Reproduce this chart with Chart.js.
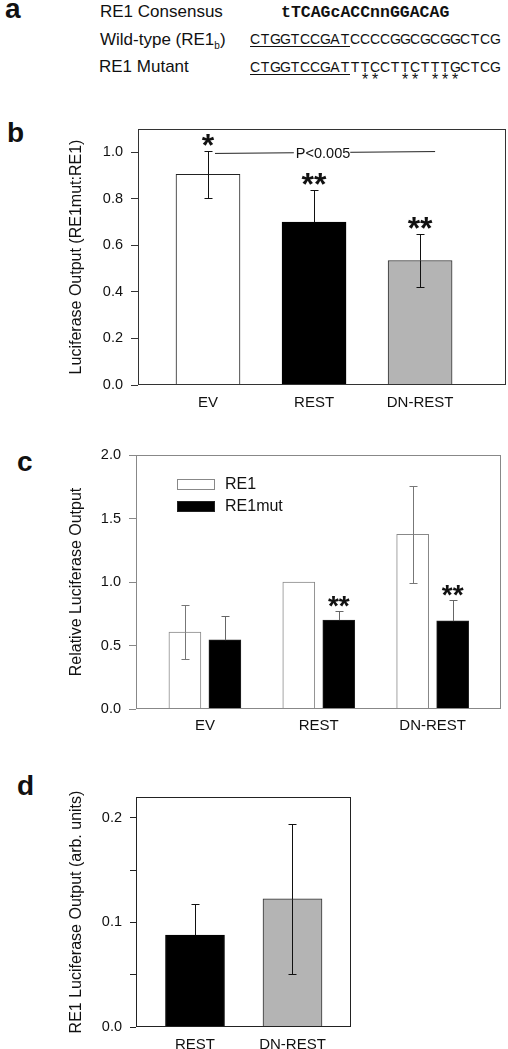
<!DOCTYPE html>
<html>
<head>
<meta charset="utf-8">
<script src="https://cdn.jsdelivr.net/npm/chart.js@4.4.1/dist/chart.umd.min.js"></script>
<style>
  html, body { margin: 0; padding: 0; background: #fff; }
  #page { position: relative; width: 508px; height: 1049px; overflow: hidden; font-family: "Liberation Sans", Arial, sans-serif; color: #111; }
  .t { position: absolute; line-height: 1; white-space: pre; }
  .lbl { font-weight: bold; font-size: 28px; }
  .row { font-size: 17px; }
  .seq { font-size: 14px; }
  .mono { font-family: "Liberation Mono", "Courier New", monospace; font-weight: bold; font-size: 16.5px; }
  .site { display: inline-block; border-bottom: 1.5px solid #111; }
  .cell { display: inline-block; width: 10px; text-align: center; }
  .stars { font-size: 16px; }
  canvas { position: absolute; left: 0; }
</style>
</head>
<body>
<div id="page">
  <div class="t lbl" style="left:5px;top:-5px">a</div>
  <div class="t row" style="left:100px;top:3px">RE1 Consensus</div>
  <div class="t mono" style="left:281px;top:5px">tTCAGcACCnnGGACAG</div>
  <div class="t row" style="left:100px;top:31px">Wild-type (RE1<sub style="font-size:10px">b</sub>)</div>
  <div class="t seq" id="wildSeq" style="left:250px;top:32px"></div>
  <div class="t row" style="left:99px;top:58px">RE1 Mutant</div>
  <div class="t seq" id="mutSeq" style="left:250px;top:60px"></div>
  <div class="t stars" id="mutStars" style="left:250px;top:72px"></div>

  <div class="t lbl" style="left:7px;top:119px">b</div>
  <div class="t lbl" style="left:17px;top:448px">c</div>
  <div class="t lbl" style="left:17px;top:772px">d</div>

  <canvas id="chartB" width="508" height="330" style="top:85px"></canvas>
  <canvas id="chartC" width="508" height="330" style="top:415px"></canvas>
  <canvas id="chartD" width="508" height="304" style="top:745px"></canvas>
</div>
<script>
// Panel a sequences
const wildSeq = 'CTGGTCCGATCCCCGGCGCGGCTCG';
const mutSeq = 'CTGGTCCGATTTCCTTCTTTGCTCG';
const mutMarks = '           **  ** ***';
const siteLength = 10; // underlined part

// Panel b: RE1mut:RE1 ratio
const bCategories = ['EV', 'REST', 'DN-REST'];
const bValues = [0.905, 0.70, 0.535];
const bErrors = [0.10, 0.14, 0.113];
const bStars = ['*', '**', '**'];
const bTicks = [0.0, 0.2, 0.4, 0.6, 0.8, 1.0];

// Panel c: relative luciferase output
const cCategories = ['EV', 'REST', 'DN-REST'];
const cRE1 = [0.605, 1.0, 1.375];
const cRE1Err = [0.215, 0, 0.38];
const cRE1mut = [0.545, 0.70, 0.695];
const cRE1mutErr = [0.19, 0.07, 0.16];
const cStars = ['', '**', '**'];
const cTicks = [0.0, 0.5, 1.0, 1.5, 2.0];

// Panel d: RE1 luciferase output
const dCategories = ['REST', 'DN-REST'];
const dValues = [0.088, 0.1225];
const dErrors = [0.030, 0.0717];
const dTicks = [0.0, 0.05, 0.1, 0.15, 0.2];

// sequence letters sit in fixed 10px cells, like the figure
function addCells(parent, text) {
    for (const c of text) {
        const cell = document.createElement('span');
        cell.className = 'cell';
        cell.textContent = c;
        parent.appendChild(cell);
    }
}
function buildSeq(el, seq) {
    const site = document.createElement('span');
    site.className = 'site';
    addCells(site, seq.slice(0, siteLength));
    el.appendChild(site);
    addCells(el, seq.slice(siteLength));
}
buildSeq(document.getElementById('wildSeq'), wildSeq);
buildSeq(document.getElementById('mutSeq'), mutSeq);
addCells(document.getElementById('mutStars'), mutMarks);

Chart.defaults.font.family = '"Liberation Sans", Arial, sans-serif';
Chart.defaults.color = '#111';
Chart.defaults.animation = false;

// box round the plot area
const framePlugin = {
    id: 'frame',
    afterDatasetsDraw(chart, args, opts) {
        const a = chart.chartArea;
        const ctx = chart.ctx;
        ctx.save();
        ctx.strokeStyle = opts.color || '#222';
        ctx.lineWidth = 1;
        ctx.strokeRect(Math.round(a.left) + 0.5, Math.round(a.top) + 0.5,
            Math.round(a.right - a.left) - 1, Math.round(a.bottom - a.top) - 1);
        ctx.restore();
    }
};

// error bars + significance stars
const errorBarPlugin = {
    id: 'errorBars',
    afterDatasetsDraw(chart, args, opts) {
        const ctx = chart.ctx;
        const yScale = chart.scales.y;
        chart.data.datasets.forEach((ds, i) => {
            const meta = chart.getDatasetMeta(i);
            meta.data.forEach((bar, j) => {
                const v = ds.data[j].y;
                const e = ds.errors ? ds.errors[j] : 0;
                const x = Math.round(bar.x) + 0.5;
                const top = Math.round(yScale.getPixelForValue(v + e)) + 0.5;
                const mid = Math.round(yScale.getPixelForValue(v)) + 0.5;
                const bot = Math.round(yScale.getPixelForValue(v - e)) + 0.5;
                const color = Array.isArray(ds.errorColor) ? ds.errorColor[j] : ds.errorColor;
                const inner = Array.isArray(ds.errorInner) ? ds.errorInner[j] : (ds.errorInner || color);
                if (e) {
                    ctx.save();
                    ctx.lineWidth = 1;
                    ctx.strokeStyle = color;
                    ctx.beginPath();
                    ctx.moveTo(x, top); ctx.lineTo(x, mid);
                    ctx.moveTo(x - opts.cap, top); ctx.lineTo(x + opts.cap, top);
                    ctx.stroke();
                    ctx.strokeStyle = inner;
                    ctx.beginPath();
                    ctx.moveTo(x, mid); ctx.lineTo(x, bot);
                    ctx.moveTo(x - opts.cap, bot); ctx.lineTo(x + opts.cap, bot);
                    ctx.stroke();
                    ctx.restore();
                }
                if (ds.stars && ds.stars[j]) {
                    ctx.save();
                    ctx.fillStyle = '#111';
                    ctx.font = 'bold ' + opts.starSize + 'px "Liberation Sans", Arial, sans-serif';
                    ctx.textAlign = 'center';
                    ctx.textBaseline = 'alphabetic';
                    ctx.fillText(ds.stars[j], bar.x, top - opts.starGap + opts.starSize * 0.52);
                    ctx.restore();
                }
            });
        });
    }
};

// P<0.005 bracket in panel b
const pLinePlugin = {
    id: 'pLine',
    afterDatasetsDraw(chart, args, opts) {
        if (!opts.text) return;
        const ctx = chart.ctx;
        const xs = chart.scales.x, ys = chart.scales.y;
        const x1 = xs.getPixelForValue(0) + 7;
        const x2 = xs.getPixelForValue(2) + 15;
        const y1 = ys.getPixelForValue(0.995), y2 = ys.getPixelForValue(1.003);
        const xm = xs.getPixelForValue(1) + 9;
        ctx.save();
        ctx.font = '14.5px "Liberation Sans", Arial, sans-serif';
        const w = ctx.measureText(opts.text).width;
        const lerp = x => y1 + (y2 - y1) * (x - x1) / (x2 - x1);
        ctx.strokeStyle = '#222';
        ctx.lineWidth = 1;
        ctx.beginPath();
        ctx.moveTo(x1, lerp(x1)); ctx.lineTo(xm - w / 2 - 2, lerp(xm - w / 2 - 2));
        ctx.moveTo(xm + w / 2, lerp(xm + w / 2)); ctx.lineTo(x2, lerp(x2));
        ctx.stroke();
        ctx.fillStyle = '#111';
        ctx.textAlign = 'center';
        ctx.textBaseline = 'middle';
        ctx.fillText(opts.text, xm, lerp(xm) + 1);
        ctx.restore();
    }
};

// legend inside plot area (panel c)
const innerLegendPlugin = {
    id: 'innerLegend',
    afterDatasetsDraw(chart, args, opts) {
        if (!opts.show) return;
        const ctx = chart.ctx;
        const a = chart.chartArea;
        ctx.save();
        ctx.font = '16px "Liberation Sans", Arial, sans-serif';
        ctx.textBaseline = 'middle';
        chart.data.datasets.forEach((ds, i) => {
            const x = a.left + 41, y = a.top + 24 + i * 22;
            ctx.fillStyle = ds.legendFill;
            ctx.fillRect(x, y, 38, 11);
            ctx.strokeStyle = ds.borderColor;
            ctx.lineWidth = 1;
            ctx.strokeRect(x + 0.5, y + 0.5, 37, 10);
            ctx.fillStyle = '#111';
            ctx.fillText(ds.label, x + 48, y + 6);
        });
        ctx.restore();
    }
};

function tickFormat(list) {
    return function (value) {
        const v = Math.round(value * 100) / 100;
        if (!list.some(t => Math.abs(t - v) < 1e-6)) return '';
        return v.toFixed(1);
    };
}

function makeChart(id, cfg) {
    const cats = cfg.categories;
    return new Chart(document.getElementById(id), {
        type: 'bar',
        data: { datasets: cfg.datasets },
        options: {
            responsive: false,
            layout: { padding: cfg.padding },
            plugins: {
                legend: { display: false },
                tooltip: { enabled: false },
                frame: { color: cfg.frameColor },
                errorBars: { cap: cfg.cap, starSize: cfg.starSize, starGap: cfg.starGap },
                pLine: { text: cfg.pText },
                innerLegend: { show: cfg.innerLegend }
            },
            scales: {
                x: {
                    type: 'linear',
                    offset: false,
                    min: cfg.xMin, max: cfg.xMax,
                    grid: { display: false, offset: false, drawTicks: false },
                    border: { display: false },
                    afterBuildTicks: s => { s.ticks = cats.map((c, i) => ({ value: i })); },
                    afterFit: s => { s.height = cfg.xHeight; },
                    ticks: {
                        autoSkip: false, maxRotation: 0,
                        padding: cfg.xPad,
                        font: { size: 15 },
                        color: '#111',
                        callback: v => cats[v]
                    }
                },
                y: {
                    min: 0, max: cfg.yMax,
                    afterBuildTicks: s => { s.ticks = cfg.yTicks.map(v => ({ value: v })); },
                    afterFit: s => { s.width = cfg.yWidth; },
                    border: { display: false },
                    grid: { drawOnChartArea: false, drawTicks: true, tickLength: cfg.tickLength, color: cfg.frameColor },
                    ticks: {
                        padding: 8,
                        font: { size: 14.5 },
                        color: '#111',
                        callback: tickFormat(cfg.yLabels)
                    },
                    title: { display: true, text: cfg.yTitle, font: { size: 16 }, color: '#111' }
                }
            }
        },
        plugins: [framePlugin, errorBarPlugin, pLinePlugin, innerLegendPlugin]
    });
}

makeChart('chartB', {
    categories: bCategories,
    datasets: [{
        data: bValues.map((v, i) => ({ x: i, y: v })),
        errors: bErrors,
        stars: bStars,
        errorColor: '#111',
        errorInner: ['#111', '#000', '#111'],
        backgroundColor: ['#ffffff', '#000000', '#b4b4b4'],
        borderColor: ['#222', '#000', '#333'],
        borderWidth: 1,
        barThickness: 64
    }],
    padding: { left: 63, right: 2, top: 44, bottom: 0 },
    xMin: -0.66, xMax: 2.81, xHeight: 30, xPad: 9,
    yMax: 1.1, yTicks: bTicks, yLabels: bTicks, yWidth: 75, tickLength: 7,
    yTitle: 'Luciferase Output (RE1mut:RE1)',
    frameColor: '#333', cap: 4, starSize: 32, starGap: 12,
    pText: 'P<0.005', innerLegend: false
});

makeChart('chartC', {
    categories: cCategories,
    datasets: [{
        label: 'RE1',
        data: cRE1.map((v, i) => ({ x: i, y: v })),
        errors: cRE1Err,
        errorColor: '#777',
        backgroundColor: '#ffffff',
        legendFill: '#ffffff',
        borderColor: '#888',
        borderWidth: 1,
        barThickness: 40,
        maxBarThickness: 32
    }, {
        label: 'RE1mut',
        data: cRE1mut.map((v, i) => ({ x: i, y: v })),
        errors: cRE1mutErr,
        stars: cStars,
        errorColor: '#666',
        errorInner: '#000',
        backgroundColor: '#000000',
        legendFill: '#000000',
        borderColor: '#222',
        borderWidth: 1,
        barThickness: 40,
        maxBarThickness: 32
    }],
    padding: { left: 63, right: 7, top: 40, bottom: 0 },
    xMin: -0.605, xMax: 2.6, xHeight: 36, xPad: 8,
    yMax: 2.0, yTicks: cTicks, yLabels: cTicks, yWidth: 73, tickLength: 7,
    yTitle: 'Relative Luciferase Output',
    frameColor: '#888', cap: 4, starSize: 28, starGap: 11,
    pText: null, innerLegend: true
});

makeChart('chartD', {
    categories: dCategories,
    datasets: [{
        data: dValues.map((v, i) => ({ x: i, y: v })),
        errors: dErrors,
        errorColor: '#111',
        errorInner: ['#000', '#111'],
        backgroundColor: ['#000000', '#b4b4b4'],
        borderColor: ['#000', '#333'],
        borderWidth: 1,
        barThickness: 59
    }],
    padding: { left: 63, right: 157, top: 52, bottom: 0 },
    xMin: -0.605, xMax: 1.6, xHeight: 22, xPad: 9,
    yMax: 0.22, yTicks: dTicks, yLabels: [0.0, 0.1, 0.2], yWidth: 73, tickLength: 6,
    yTitle: 'RE1 Luciferase Output (arb. units)',
    frameColor: '#222', cap: 4, starSize: 28, starGap: 11,
    pText: null, innerLegend: false
});
</script>
</body>
</html>
